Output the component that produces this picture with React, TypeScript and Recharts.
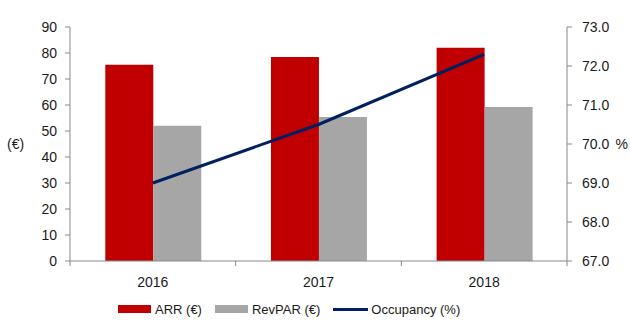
import { ComposedChart, Bar, Line, XAxis, YAxis, Legend } from "recharts";

const years = ["2016", "2017", "2018"];
const arr = [75.5, 78.5, 82];
const revpar = [52, 55.4, 59.2];
const occupancy = [69.0, 70.5, 72.3];
const leftTicks = [0, 10, 20, 30, 40, 50, 60, 70, 80, 90];
const rightTicks = [67, 68, 69, 70, 71, 72, 73];
const legendOrder = ["ARR (€)", "RevPAR (€)", "Occupancy (%)"];

const data = years.map((y, i) => ({
  year: y,
  arr: arr[i],
  revpar: revpar[i],
  occ: occupancy[i],
}));

const W = 630;
const H = 331;
const LEFT_W = 70;
const RIGHT_W = 63;
const BAND = (W - LEFT_W - RIGHT_W) / years.length;
const AXIS = "#898989";
const TEXT = "#1a1a1a";
const FONT = "'Liberation Sans', Arial, sans-serif";

function YearTick(props: any) {
  const { x, y, payload, index } = props;
  const half = BAND / 2;
  return (
    <g>
      <line x1={x - half} x2={x - half} y1={y - 5} y2={y} stroke={AXIS} />
      {index === years.length - 1 && (
        <line x1={x + half} x2={x + half} y1={y - 5} y2={y} stroke={AXIS} />
      )}
      <text x={x} y={y + 21} textAnchor="middle" fill={TEXT} fontSize={14} fontFamily={FONT}>
        {payload.value}
      </text>
    </g>
  );
}

function LegendBox(props: any) {
  const items = [...(props.payload || [])].sort(
    (a: any, b: any) => legendOrder.indexOf(a.value) - legendOrder.indexOf(b.value)
  );
  return (
    <div style={{ display: "flex", alignItems: "center", height: 24, paddingLeft: 118, fontFamily: FONT, fontSize: 13, color: TEXT }}>
      {items.map((it: any) => (
        <div key={it.value} style={{ display: "flex", alignItems: "center", marginRight: 13 }}>
          {it.type === "line" ? (
            <div style={{ width: 35, height: 3, background: it.color, marginRight: 3 }} />
          ) : (
            <div style={{ width: 33, height: 8, background: it.color, marginRight: 4 }} />
          )}
          <span>{it.value}</span>
        </div>
      ))}
    </div>
  );
}

export default function App() {
  return (
    <div style={{ position: "absolute", left: 0, top: 0, background: "#fff" }}>
      <ComposedChart
        width={W}
        height={H}
        data={data}
        margin={{ top: 27, right: 0, left: 0, bottom: 10 }}
        barCategoryGap="21.3%"
        barGap={0}
      >
        <XAxis
          dataKey="year"
          stroke={AXIS}
          tickLine={false}
          tickSize={5}
          tickMargin={0}
          height={36}
          tick={<YearTick />}
        />
        <YAxis
          yAxisId="left"
          width={LEFT_W}
          domain={[0, 90]}
          ticks={leftTicks}
          stroke={AXIS}
          tickSize={5}
          tickMargin={8}
          tick={{ fill: TEXT, fontSize: 14, fontFamily: FONT }}
          label={{ value: "(€)", position: "insideLeft", offset: 7, fill: TEXT, fontSize: 14, fontFamily: FONT }}
        />
        <YAxis
          yAxisId="right"
          orientation="right"
          width={RIGHT_W}
          domain={[67, 73]}
          ticks={rightTicks}
          stroke={AXIS}
          tickSize={5}
          tickMargin={10}
          tickFormatter={(v: number) => v.toFixed(1)}
          tick={{ fill: TEXT, fontSize: 14, fontFamily: FONT }}
          label={{ value: "%", position: "insideRight", offset: 2, fill: TEXT, fontSize: 14, fontFamily: FONT }}
        />
        <Legend verticalAlign="bottom" content={<LegendBox />} />
        <Bar yAxisId="left" dataKey="arr" name="ARR (€)" fill="#C00000" isAnimationActive={false} />
        <Bar yAxisId="left" dataKey="revpar" name="RevPAR (€)" fill="#A6A6A6" isAnimationActive={false} />
        <Line
          yAxisId="right"
          dataKey="occ"
          name="Occupancy (%)"
          type="linear"
          stroke="#002060"
          strokeWidth={3}
          dot={false}
          legendType="line"
          isAnimationActive={false}
        />
      </ComposedChart>
    </div>
  );
}
